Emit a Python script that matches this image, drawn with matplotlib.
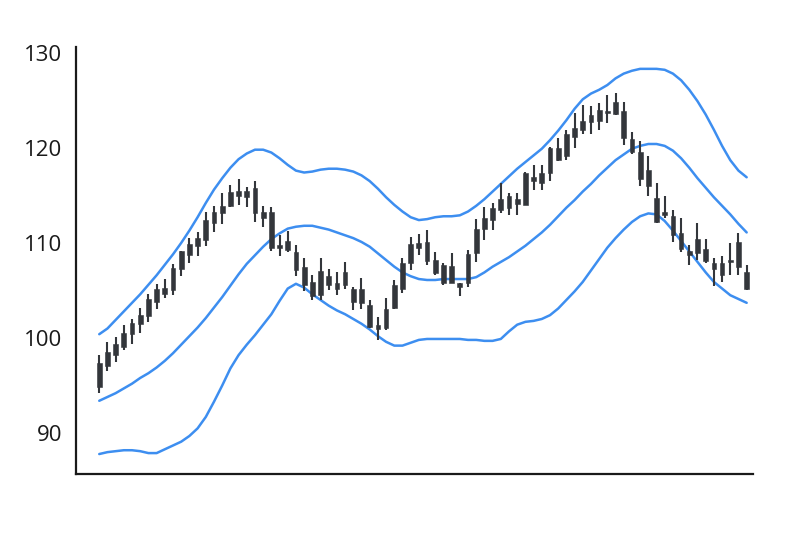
import numpy as np
import matplotlib.pyplot as plt

# OHLC (80 sessions)
opens = [94.8, 97.1, 98.2, 99.1, 100.4, 101.5, 102.3, 103.8, 104.6, 105.1,
         107.3, 108.7, 109.7, 110.3, 112.1, 113.1, 113.9, 114.9, 114.8, 115.8,
         113.3, 113.3, 109.8, 109.3, 109.0, 107.5, 105.9, 104.5, 106.5, 105.8,
         105.6, 105.2, 105.2, 103.5, 101.4, 101.0, 103.2, 105.2, 107.9, 110.0,
         110.1, 108.2, 107.7, 105.8, 105.8, 105.8, 108.9, 111.5, 112.4, 113.5,
         114.9, 114.6, 114.0, 116.9, 116.3, 117.3, 120.0, 119.1, 121.1, 121.9,
         122.7, 122.8, 123.9, 123.6, 123.9, 120.9, 119.6, 117.7, 114.7, 113.2,
         112.8, 111.0, 109.1, 108.9, 109.4, 107.9, 107.9, 108.0, 107.5, 106.9]
closes = [97.4, 98.5, 99.4, 100.5, 101.6, 102.4, 104.1, 105.2, 105.3, 107.4,
          109.1, 109.9, 110.5, 112.4, 113.3, 113.9, 115.4, 115.5, 115.5, 113.1,
          112.6, 109.5, 109.5, 110.2, 107.2, 105.6, 104.4, 107.0, 105.6, 105.2,
          106.9, 103.8, 103.7, 101.2, 100.9, 103.1, 105.6, 107.9, 109.9, 109.5,
          108.1, 106.8, 105.8, 107.6, 105.4, 108.8, 111.5, 112.6, 113.7, 114.6,
          113.7, 114.1, 117.3, 116.5, 117.3, 120.0, 118.7, 121.5, 122.1, 122.8,
          123.5, 124.0, 123.7, 124.8, 121.0, 119.6, 116.7, 116.0, 112.2, 112.9,
          110.8, 109.4, 108.7, 110.4, 108.1, 107.3, 106.6, 108.2, 110.1, 105.2]
highs = [98.2, 99.6, 100.1, 101.4, 102.0, 103.2, 104.6, 105.7, 106.2, 107.8,
         109.2, 110.5, 111.1, 113.2, 113.9, 115.2, 116.1, 116.7, 115.9, 116.5,
         113.9, 113.8, 110.8, 111.2, 109.8, 108.4, 106.6, 108.4, 107.3, 106.9,
         108.0, 105.4, 106.3, 104.0, 102.2, 104.2, 106.1, 108.4, 110.6, 110.9,
         111.4, 109.0, 107.9, 108.9, 105.8, 109.3, 112.5, 113.8, 114.2, 116.3,
         115.2, 115.2, 117.5, 118.2, 118.2, 120.1, 121.0, 121.9, 123.7, 124.5,
         124.4, 124.7, 125.6, 125.8, 124.8, 121.7, 120.7, 119.1, 116.3, 114.9,
         113.5, 112.6, 109.8, 112.1, 110.4, 108.4, 108.6, 110.0, 111.0, 107.7]
lows = [94.2, 96.5, 97.5, 98.7, 99.4, 100.5, 101.7, 103.1, 104.2, 104.5,
        106.5, 107.9, 108.6, 109.7, 111.1, 112.0, 113.8, 114.0, 113.8, 112.2,
        111.7, 109.1, 108.6, 109.0, 106.5, 104.9, 104.0, 104.0, 105.1, 104.5,
        105.2, 102.9, 103.1, 101.0, 99.8, 100.8, 103.0, 104.7, 107.2, 108.7,
        107.7, 106.6, 105.6, 105.8, 104.4, 105.4, 108.0, 110.3, 111.4, 113.1,
        112.9, 112.9, 114.0, 115.6, 115.6, 116.5, 118.6, 118.7, 120.0, 121.4,
        121.5, 121.9, 122.6, 123.5, 120.3, 119.4, 116.0, 114.9, 112.1, 112.6,
        110.1, 109.0, 107.7, 108.2, 107.9, 105.5, 105.9, 106.6, 106.6, 105.1]

# Bollinger bands as drawn
upper = [100.4, 101.0, 101.9, 102.8, 103.7, 104.6, 105.6, 106.6, 107.7, 108.8,
         110.0, 111.3, 112.7, 114.2, 115.6, 116.8, 117.9, 118.8, 119.4, 119.8,
         119.8, 119.5, 118.9, 118.2, 117.6, 117.4, 117.5, 117.7, 117.8, 117.8,
         117.7, 117.5, 117.1, 116.5, 115.7, 114.8, 114.0, 113.3, 112.7, 112.4,
         112.5, 112.7, 112.8, 112.8, 112.9, 113.3, 113.9, 114.6, 115.4, 116.2,
         117.0, 117.8, 118.5, 119.2, 119.9, 120.8, 121.8, 122.9, 124.1, 125.1,
         125.7, 126.1, 126.6, 127.3, 127.8, 128.1, 128.3, 128.3, 128.3, 128.2,
         127.8, 127.1, 126.1, 124.9, 123.5, 121.9, 120.2, 118.7, 117.6, 116.9]
middle = [93.4, 93.8, 94.2, 94.7, 95.2, 95.8, 96.3, 96.9, 97.6, 98.4,
          99.3, 100.2, 101.1, 102.1, 103.2, 104.3, 105.5, 106.7, 107.8, 108.7,
          109.6, 110.4, 111.0, 111.5, 111.7, 111.8, 111.8, 111.6, 111.4, 111.1,
          110.8, 110.5, 110.1, 109.6, 108.9, 108.2, 107.5, 106.9, 106.5, 106.2,
          106.1, 106.1, 106.2, 106.2, 106.2, 106.2, 106.4, 106.9, 107.5, 108.0,
          108.5, 109.1, 109.7, 110.4, 111.1, 111.9, 112.8, 113.7, 114.5, 115.4,
          116.2, 117.1, 117.9, 118.7, 119.3, 119.9, 120.2, 120.4, 120.4, 120.2,
          119.7, 118.9, 117.9, 116.8, 115.8, 114.8, 113.9, 113.0, 112.0, 111.1]
lower = [87.8, 88.0, 88.1, 88.2, 88.2, 88.1, 87.9, 87.9, 88.3, 88.7,
         89.1, 89.7, 90.5, 91.7, 93.3, 95.0, 96.8, 98.2, 99.3, 100.3,
         101.4, 102.5, 103.9, 105.2, 105.7, 105.3, 104.6, 104.0, 103.4, 102.9,
         102.5, 102.0, 101.5, 100.9, 100.2, 99.6, 99.2, 99.2, 99.5, 99.8,
         99.9, 99.9, 99.9, 99.9, 99.9, 99.8, 99.8, 99.7, 99.7, 99.9,
         100.7, 101.4, 101.7, 101.8, 102.0, 102.4, 103.1, 104.0, 104.9, 105.9,
         107.1, 108.3, 109.5, 110.5, 111.4, 112.2, 112.8, 113.1, 113.0, 112.3,
         111.3, 110.2, 109.1, 108.0, 106.9, 105.9, 105.2, 104.5, 104.1, 103.7]

yticks = [90, 100, 110, 120, 130]

plt.rcParams['font.family'] = ['Open Sans', 'DejaVu Sans']

fig = plt.figure(figsize=(8.1, 5.4), dpi=100)
ax = fig.add_axes([0.0938, 0.1222, 0.8358, 0.7908])

x = np.arange(len(opens))
o = np.array(opens)
c = np.array(closes)
candle_col = '#33363b'
band_col = '#3d8ef0'

for band in (upper, middle, lower):
    ax.plot(x, band, color=band_col, lw=1.8, solid_joinstyle='round',
            solid_capstyle='round', zorder=1)

ax.vlines(x, lows, highs, color=candle_col, lw=1.5, zorder=2)
ax.bar(x, np.abs(c - o), bottom=np.minimum(o, c), width=0.58,
       color=candle_col, edgecolor=candle_col, lw=0.4, zorder=3)

ax.set_xlim(-2.84, 79.77)
ax.set_ylim(85.7, 130.6)
ax.set_yticks(yticks)
ax.set_xticks([])
ax.tick_params(axis='y', length=0, pad=10, labelsize=16, labelcolor='#1a1a1a')

for s in ['top', 'right']:
    ax.spines[s].set_visible(False)
for s in ['left', 'bottom']:
    ax.spines[s].set_linewidth(1.6)
    ax.spines[s].set_color('#1a1a1a')

fig.savefig('out.png', dpi=100)
